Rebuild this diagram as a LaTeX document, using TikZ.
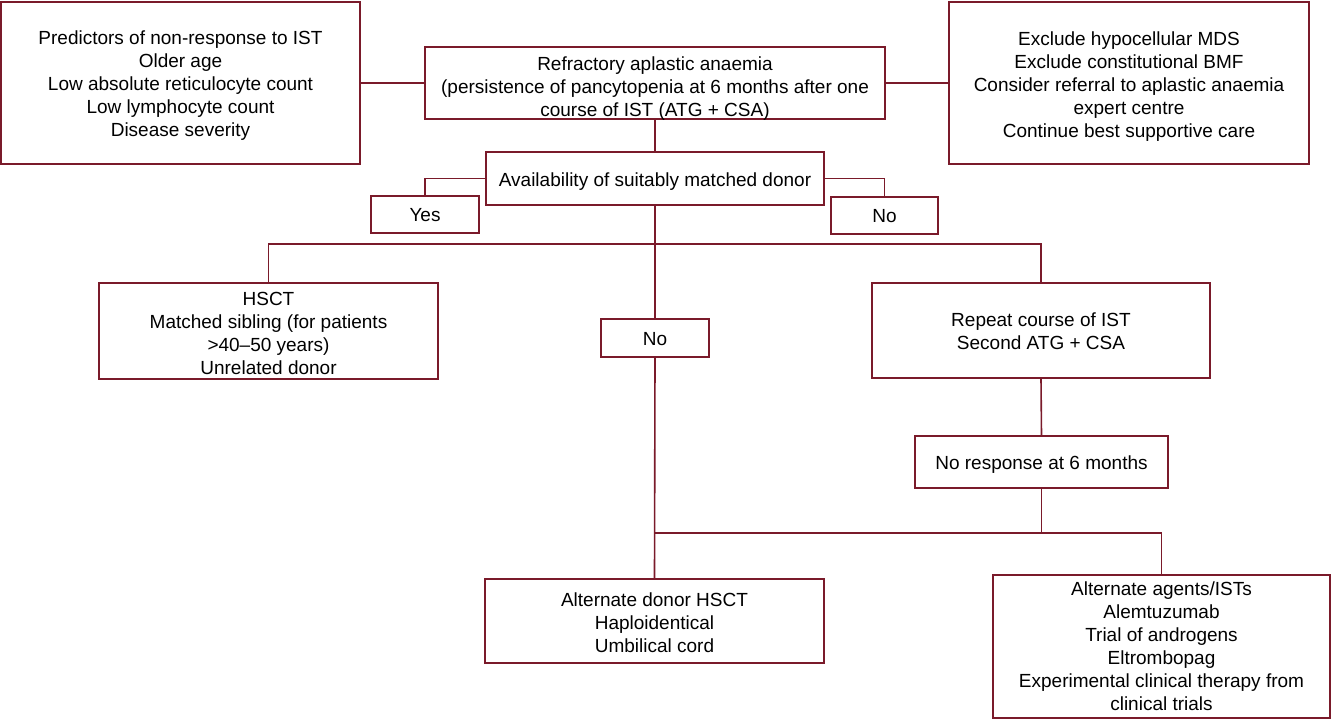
\documentclass[tikz,border=0pt]{standalone}
\usepackage{fontspec}
\setmainfont{Liberation Sans}
\definecolor{maroon}{RGB}{122,26,42}
\begin{document}
\begin{tikzpicture}[x=1pt,y=-1pt,
  box/.style={draw=maroon, line width=1.6pt, fill=white, inner sep=0pt},
  txt/.style={align=center, inner sep=0pt, font=\fontsize{19}{23}\selectfont, text=black},
  conn/.style={draw=maroon, line width=1.6pt}]
\useasboundingbox (0,0) rectangle (1331,727);
% boxes
\node[box, minimum width=359pt, minimum height=162pt] (pred) at (180.5,83) {};
\node[box, minimum width=460pt, minimum height=72pt] (refr) at (655,83) {};
\node[box, minimum width=360pt, minimum height=162pt] (excl) at (1129,83) {};
\node[box, minimum width=338pt, minimum height=53pt] (avail) at (655,178.5) {};
\node[box, minimum width=108pt, minimum height=37pt] (yes) at (425,214.5) {};
\node[box, minimum width=107pt, minimum height=37pt] (no1) at (884.5,215.5) {};
\node[box, minimum width=339pt, minimum height=96pt] (hsct) at (268.5,331) {};
\node[box, minimum width=108pt, minimum height=38pt] (no2) at (655,338) {};
\node[box, minimum width=338pt, minimum height=95pt] (rep) at (1041,330.5) {};
\node[box, minimum width=253pt, minimum height=52pt] (nr) at (1041.5,462) {};
\node[box, minimum width=339pt, minimum height=84pt] (altd) at (654.5,621) {};
\node[box, minimum width=337pt, minimum height=143pt] (alta) at (1161.5,646.5) {};
% texts
\node[txt] (predt) at ([yshift=-3pt]pred.center)
  {Predictors of non-response to IST\\Older age\\Low absolute reticulocyte count\\Low lymphocyte count\\Disease severity};
\node[txt] (refrt) at ([yshift=-6pt]refr.center)
  {Refractory aplastic anaemia\\(persistence of pancytopenia at 6 months after one\\course of IST (ATG + CSA)};
\node[txt] (exclt) at ([yshift=-3.5pt]excl.center)
  {Exclude hypocellular MDS\\Exclude constitutional BMF\\Consider referral to aplastic anaemia\\expert centre\\Continue best supportive care};
\node[txt] (availt) at ([yshift=-3pt]avail.center) {Availability of suitably matched donor};
\node[txt] (yest) at ([yshift=-1pt]yes.center) {Yes};
\node[txt] (no1t) at ([yshift=-1pt]no1.center) {No};
\node[txt] (hsctt) at ([yshift=-2pt]hsct.center)
  {HSCT\\Matched sibling (for patients\\>40–50 years)\\Unrelated donor};
\node[txt] (no2t) at ([yshift=-1pt]no2.center) {No};
\node[txt] (rept) at ([yshift=-1pt]rep.center) {Repeat course of IST\\Second ATG + CSA};
\node[txt] (nrt) at ([yshift=-3pt]nr.center) {No response at 6 months};
\node[txt] (altdt) at ([yshift=-2pt]altd.center)
  {Alternate donor HSCT\\Haploidentical\\Umbilical cord};
\node[txt] (altat) at (alta.center)
  {Alternate agents/ISTs\\Alemtuzumab\\Trial of androgens\\Eltrombopag\\Experimental clinical therapy from\\clinical trials};
\coordinate (j1) at (655,244);
\coordinate (j2) at (1041.5,533);
% connectors
\draw[conn] (pred.east) -- (refr.west);
\draw[conn] (refr.east) -- (excl.west);
\draw[conn] (refr.south) -- (avail.north);
\draw[conn] (avail.west) -| (yes.north);
\draw[conn] (avail.east) -| (no1.north);
\draw[conn] (avail.south) -- (no2.north);
\draw[conn] (hsct.north) |- (j1) -| (rep.north);
\draw[conn] (rep.south) -- (nr.north);
\draw[conn] (nr.south) -- (j2);
\draw[conn] (no2.south) -- (altd.north);
\draw[conn] (no2.south |- j2) -- (j2) -| (alta.north);
\end{tikzpicture}
\end{document}
